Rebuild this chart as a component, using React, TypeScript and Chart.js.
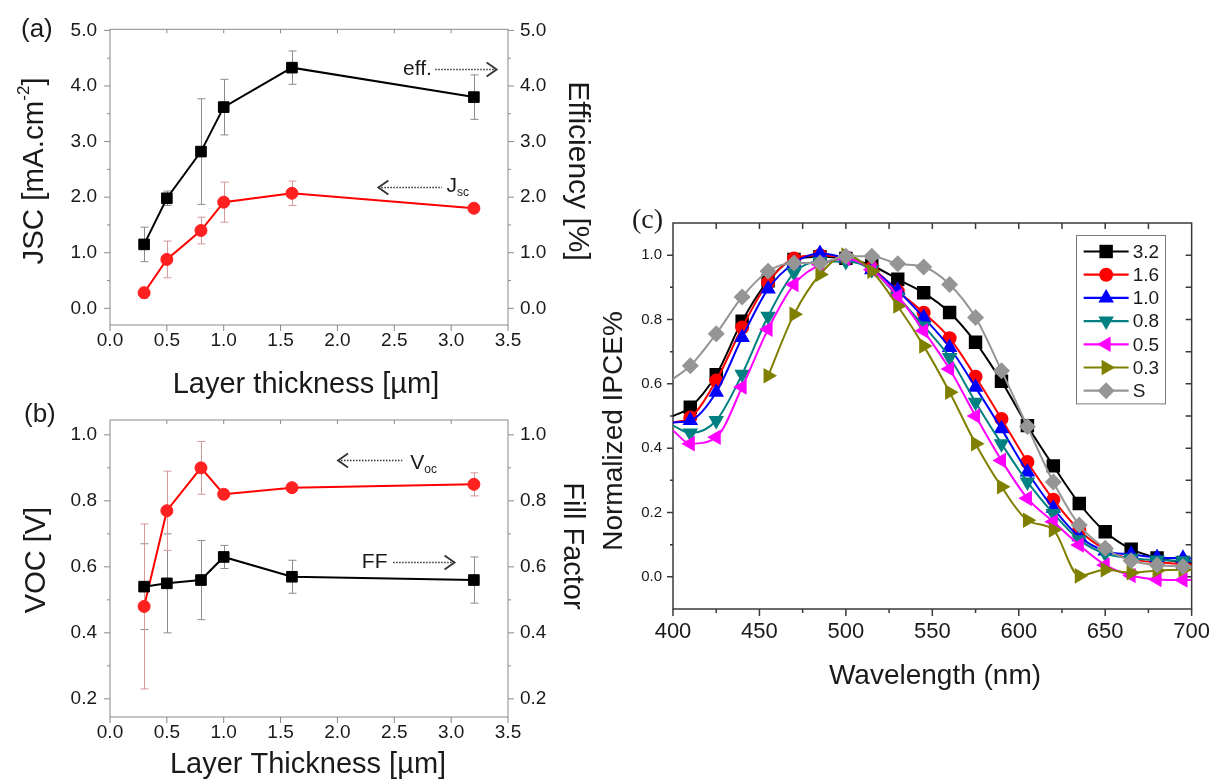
import React, { useEffect, useRef } from 'react';
import { Chart, registerables } from 'chart.js';

Chart.register(...registerables);

const SANS = '"Liberation Sans", Arial, Helvetica, sans-serif';
const SERIF = '"Liberation Serif", "Times New Roman", serif';
const INK = '#1a1a1a';

// ---------------- Panels (a) and (b) ----------------
const thicknessUm = [0.3, 0.5, 0.8, 1.0, 1.6, 3.2];
const jscValues = [0.28, 0.88, 1.4, 1.91, 2.07, 1.8];
const jscErrors = [0.1, 0.33, 0.24, 0.36, 0.22, 0.05];
const effValues = [1.15, 1.98, 2.82, 3.62, 4.33, 3.8];
const effErrors = [0.31, 0.13, 0.95, 0.5, 0.3, 0.4];
const vocValues = [0.48, 0.77, 0.9, 0.82, 0.84, 0.85];
const vocErrors = [0.25, 0.12, 0.08, 0.012, 0.01, 0.035];
const ffValues = [0.54, 0.55, 0.56, 0.63, 0.57, 0.56];
const ffErrors = [0.13, 0.15, 0.12, 0.035, 0.05, 0.07];

const thicknessTicks = [0, 0.5, 1, 1.5, 2, 2.5, 3, 3.5];
const thicknessTopTicks = [0.5, 1, 1.5, 2, 2.5, 3];
const jscTicks = [0, 1, 2, 3, 4, 5];
const jscMinorTicks = [0.5, 1.5, 2.5, 3.5, 4.5];
const vocTicks = [0.2, 0.4, 0.6, 0.8, 1.0];
const vocMinorTicks = [0.3, 0.5, 0.7, 0.9];

// ---------------- Panel (c) ----------------
const wavelengthNm = [400, 410, 425, 440, 455, 470, 485, 500, 515, 530, 545, 560, 575, 590, 605, 620, 635, 650, 665, 680, 695, 700];
const ipceLabels = ['3.2', '1.6', '1.0', '0.8', '0.5', '0.3', 'S'];
const ipce32 = [0.5, 0.527, 0.628, 0.795, 0.92, 0.987, 0.995, 0.99, 0.968, 0.925, 0.883, 0.822, 0.729, 0.608, 0.47, 0.345, 0.228, 0.14, 0.086, 0.059, 0.045, 0.043];
const ipce16 = [0.48, 0.495, 0.61, 0.775, 0.915, 0.99, 1.0, 0.99, 0.96, 0.888, 0.821, 0.742, 0.622, 0.491, 0.357, 0.24, 0.145, 0.085, 0.055, 0.045, 0.04, 0.038];
const ipce10 = [0.48, 0.486, 0.574, 0.744, 0.895, 0.975, 1.005, 0.99, 0.955, 0.89, 0.806, 0.713, 0.589, 0.46, 0.326, 0.213, 0.125, 0.08, 0.07, 0.06, 0.058, 0.057];
const ipce08 = [0.47, 0.447, 0.486, 0.63, 0.81, 0.945, 0.98, 0.98, 0.955, 0.87, 0.78, 0.682, 0.543, 0.414, 0.295, 0.197, 0.115, 0.072, 0.058, 0.052, 0.05, 0.05];
const ipce05 = [0.455, 0.414, 0.434, 0.59, 0.77, 0.909, 0.97, 0.99, 0.955, 0.873, 0.765, 0.646, 0.5, 0.362, 0.244, 0.171, 0.099, 0.037, 0.004, -0.008, -0.01, -0.01];
const ipce03 = [null, null, null, null, 0.625, 0.816, 0.94, 1.0, 0.95, 0.842, 0.718, 0.574, 0.414, 0.28, 0.176, 0.146, 0.003, 0.022, 0.013, 0.02, 0.022, 0.022];
const ipceS = [0.615, 0.656, 0.756, 0.87, 0.95, 0.976, 0.976, 0.997, 0.997, 0.973, 0.963, 0.909, 0.806, 0.641, 0.467, 0.295, 0.161, 0.089, 0.05, 0.037, 0.032, 0.031];
const ipceValues = [ipce32, ipce16, ipce10, ipce08, ipce05, ipce03, ipceS];

const wavelengthTicks = [400, 450, 500, 550, 600, 650, 700];
const wavelengthMinorTicks = [425, 475, 525, 575, 625, 675];
const wavelengthTopTicks = [425, 450, 475, 500, 525, 550, 575, 600, 625, 650, 675];
const ipceTicks = [0, 0.2, 0.4, 0.6, 0.8, 1.0];
const ipceMinorTicks = [0.1, 0.3, 0.5, 0.7, 0.9];
const ipceRightTicks = [0, 0.1, 0.2, 0.3, 0.4, 0.5, 0.6, 0.7, 0.8, 0.9, 1.0];

const ipceStyles = [
  { color: '#000000', shape: 'rect', rot: 0, r: 9.5 },
  { color: '#ff0000', shape: 'circle', rot: 0, r: 7 },
  { color: '#0000ff', shape: 'triangle', rot: 0, r: 9 },
  { color: '#008080', shape: 'triangle', rot: 180, r: 9 },
  { color: '#ff00ff', shape: 'triangle', rot: -90, r: 9 },
  { color: '#808000', shape: 'triangle', rot: 90, r: 9 },
  { color: '#959595', shape: 'rectRot', rot: 0, r: 8.5 },
];

// ---------------- helpers / plugins ----------------
type Part = { t: string; size?: number; dy?: number };
type Label = {
  parts: Part[];
  x: number;
  y: number;
  size: number;
  family?: string;
  align?: 'left' | 'center' | 'right';
  rot?: number;
  color?: string;
  data?: { xs: string; ys: string };
};

function textPlugin(items: Label[]) {
  return {
    id: 'texts',
    afterDraw(chart: any) {
      const ctx = chart.ctx as CanvasRenderingContext2D;
      for (const it of items) {
        let x = it.x;
        let y = it.y;
        if (it.data) {
          x = chart.scales[it.data.xs].getPixelForValue(it.x);
          y = chart.scales[it.data.ys].getPixelForValue(it.y);
        }
        const fam = it.family || SANS;
        ctx.save();
        ctx.translate(x, y);
        if (it.rot) ctx.rotate((it.rot * Math.PI) / 180);
        ctx.fillStyle = it.color || INK;
        ctx.textBaseline = 'middle';
        ctx.textAlign = 'left';
        const widths = it.parts.map((p) => {
          ctx.font = `${p.size || it.size}px ${fam}`;
          return ctx.measureText(p.t).width;
        });
        const total = widths.reduce((a, b) => a + b, 0);
        let cx = it.align === 'center' ? -total / 2 : it.align === 'right' ? -total : 0;
        it.parts.forEach((p, i) => {
          ctx.font = `${p.size || it.size}px ${fam}`;
          ctx.fillText(p.t, cx, p.dy || 0);
          cx += widths[i];
        });
        ctx.restore();
      }
    },
  };
}

type TickSet = { scale: string; side: 'left' | 'right' | 'top' | 'bottom'; values: number[]; len: number; out: boolean };

function framePlugin(color: string, width: number, sets: TickSet[]) {
  return {
    id: 'frame',
    beforeDatasetsDraw(chart: any) {
      const ctx = chart.ctx as CanvasRenderingContext2D;
      const a = chart.chartArea;
      ctx.save();
      ctx.strokeStyle = color;
      ctx.lineWidth = width;
      ctx.strokeRect(a.left, a.top, a.right - a.left, a.bottom - a.top);
      ctx.beginPath();
      for (const s of sets) {
        const sc = chart.scales[s.scale];
        const d = s.out ? s.len : -s.len;
        for (const v of s.values) {
          const p = sc.getPixelForValue(v);
          if (s.side === 'left') {
            ctx.moveTo(a.left, p);
            ctx.lineTo(a.left - d, p);
          } else if (s.side === 'right') {
            ctx.moveTo(a.right, p);
            ctx.lineTo(a.right + d, p);
          } else if (s.side === 'top') {
            ctx.moveTo(p, a.top);
            ctx.lineTo(p, a.top - d);
          } else {
            ctx.moveTo(p, a.bottom);
            ctx.lineTo(p, a.bottom + d);
          }
        }
      }
      ctx.stroke();
      ctx.restore();
    },
  };
}

type ErrSpec = { ds: number; err: number[]; color: string };
function errorBarPlugin(specs: ErrSpec[]) {
  return {
    id: 'errorBars',
    beforeDatasetsDraw(chart: any) {
      const ctx = chart.ctx as CanvasRenderingContext2D;
      ctx.save();
      ctx.lineWidth = 1;
      for (const s of specs) {
        const meta = chart.getDatasetMeta(s.ds);
        const xs = chart.scales[meta.xAxisID];
        const ys = chart.scales[meta.yAxisID];
        const data = chart.data.datasets[s.ds].data as { x: number; y: number }[];
        ctx.strokeStyle = s.color;
        ctx.beginPath();
        data.forEach((d, i) => {
          const x = Math.round(xs.getPixelForValue(d.x)) + 0.5;
          const y1 = ys.getPixelForValue(d.y - s.err[i]);
          const y2 = ys.getPixelForValue(d.y + s.err[i]);
          ctx.moveTo(x, y1);
          ctx.lineTo(x, y2);
          ctx.moveTo(x - 4, y1);
          ctx.lineTo(x + 4, y1);
          ctx.moveTo(x - 4, y2);
          ctx.lineTo(x + 4, y2);
        });
        ctx.stroke();
      }
      ctx.restore();
    },
  };
}

type Arrow = { xs: string; ys: string; x1: number; x2: number; y: number; head: 'left' | 'right' };
function arrowPlugin(arrows: Arrow[]) {
  return {
    id: 'arrows',
    afterDraw(chart: any) {
      const ctx = chart.ctx as CanvasRenderingContext2D;
      ctx.save();
      ctx.strokeStyle = '#333333';
      for (const a of arrows) {
        const xs = chart.scales[a.xs];
        const ys = chart.scales[a.ys];
        const p1 = xs.getPixelForValue(a.x1);
        const p2 = xs.getPixelForValue(a.x2);
        const y = Math.round(ys.getPixelForValue(a.y)) + 0.5;
        ctx.lineWidth = 1.3;
        ctx.setLineDash([1.5, 1.5]);
        ctx.beginPath();
        ctx.moveTo(p1, y);
        ctx.lineTo(p2, y);
        ctx.stroke();
        ctx.setLineDash([]);
        ctx.lineWidth = 1.8;
        ctx.beginPath();
        if (a.head === 'right') {
          ctx.moveTo(p2 - 10, y - 7);
          ctx.lineTo(p2, y);
          ctx.lineTo(p2 - 10, y + 7);
        } else {
          ctx.moveTo(p1 + 10, y - 7);
          ctx.lineTo(p1, y);
          ctx.lineTo(p1 + 10, y + 7);
        }
        ctx.stroke();
      }
      ctx.restore();
    },
  };
}

function drawMarker(ctx: CanvasRenderingContext2D, shape: string, x: number, y: number, r: number, rotDeg: number) {
  ctx.beginPath();
  if (shape === 'circle') {
    ctx.arc(x, y, r, 0, Math.PI * 2);
  } else if (shape === 'rect') {
    const s = Math.SQRT1_2 * r;
    ctx.rect(x - s, y - s, 2 * s, 2 * s);
  } else if (shape === 'rectRot') {
    ctx.moveTo(x, y - r);
    ctx.lineTo(x + r, y);
    ctx.lineTo(x, y + r);
    ctx.lineTo(x - r, y);
    ctx.closePath();
  } else {
    let rad = (rotDeg * Math.PI) / 180;
    ctx.moveTo(x + Math.sin(rad) * r, y - Math.cos(rad) * r);
    rad += (2 * Math.PI) / 3;
    ctx.lineTo(x + Math.sin(rad) * r, y - Math.cos(rad) * r);
    rad += (2 * Math.PI) / 3;
    ctx.lineTo(x + Math.sin(rad) * r, y - Math.cos(rad) * r);
    ctx.closePath();
  }
  ctx.fill();
}

function ipceLegendPlugin() {
  return {
    id: 'ipceLegend',
    afterDatasetsDraw(chart: any) {
      const ctx = chart.ctx as CanvasRenderingContext2D;
      const a = chart.chartArea;
      const boxW = 89;
      const rowH = 23.2;
      const right = a.right - 27;
      const top = a.top + 12;
      const left = right - boxW;
      const h = rowH * ipceLabels.length + 6;
      ctx.save();
      ctx.fillStyle = '#ffffff';
      ctx.fillRect(left, top, boxW, h);
      ctx.strokeStyle = '#7a7a7a';
      ctx.lineWidth = 1;
      ctx.strokeRect(Math.round(left) + 0.5, Math.round(top) + 0.5, boxW, h);
      ipceLabels.forEach((lab, i) => {
        const st = ipceStyles[i];
        const y = top + 16.5 + i * rowH;
        ctx.strokeStyle = st.color;
        ctx.fillStyle = st.color;
        ctx.lineWidth = 2.2;
        ctx.beginPath();
        ctx.moveTo(left + 8, y);
        ctx.lineTo(left + 53, y);
        ctx.stroke();
        drawMarker(ctx, st.shape, left + 30.5, y, st.r, st.rot);
        ctx.fillStyle = INK;
        ctx.font = `19px ${SANS}`;
        ctx.textBaseline = 'middle';
        ctx.textAlign = 'left';
        ctx.fillText(lab, left + 57, y + 1);
      });
      ctx.restore();
    },
  };
}

const fixTicks = (vals: number[]) => (s: any) => {
  s.ticks = vals.map((v) => ({ value: v }));
};

function axis(opts: any) {
  return {
    type: 'linear',
    min: opts.min,
    max: opts.max,
    position: opts.position,
    afterBuildTicks: fixTicks(opts.ticks),
    afterFit: (s: any) => {
      if (opts.width !== undefined) s.width = opts.width;
      if (opts.height !== undefined) s.height = opts.height;
    },
    grid: { display: false, drawTicks: false },
    border: { display: false },
    ticks: {
      display: opts.showLabels !== false,
      autoSkip: false,
      maxRotation: 0,
      padding: opts.padding,
      color: INK,
      font: { family: SANS, size: opts.fontSize },
      callback: opts.format,
    },
  };
}

const fmt1 = (v: any) => Number(v).toFixed(1);
const fmt0 = (v: any) => String(Math.round(Number(v)));

// ---------------- chart builders ----------------
function buildA(canvas: HTMLCanvasElement) {
  const toPts = (ys: number[]) => thicknessUm.map((x, i) => ({ x, y: ys[i] }));
  return new Chart(canvas, {
    type: 'line',
    data: {
      datasets: [
        {
          label: 'eff.',
          data: toPts(effValues),
          yAxisID: 'y2',
          borderColor: '#000000',
          backgroundColor: '#000000',
          pointBackgroundColor: '#000000',
          pointBorderColor: '#000000',
          borderWidth: 2,
          pointStyle: 'rect',
          pointRadius: 7.5,
          pointBorderWidth: 1,
          order: 0,
        },
        {
          label: 'Jsc',
          data: toPts(jscValues),
          yAxisID: 'y',
          borderColor: '#ff0000',
          backgroundColor: '#ff0000',
          pointBackgroundColor: '#ff2020',
          pointBorderColor: '#ff2020',
          borderWidth: 2,
          pointStyle: 'circle',
          pointRadius: 6,
          pointBorderWidth: 1,
          order: 1,
        },
      ],
    } as any,
    options: {
      responsive: false,
      animation: false,
      events: [],
      layout: { padding: { top: 29.3, left: 0, right: 0, bottom: 0 } },
      plugins: { legend: { display: false }, tooltip: { enabled: false } },
      scales: {
        x: axis({ min: 0, max: 3.5, position: 'bottom', ticks: thicknessTicks, height: 85, padding: 4, fontSize: 19, format: fmt1 }),
        y: axis({ min: -0.3, max: 5.02, position: 'left', ticks: jscTicks, width: 110, padding: 13, fontSize: 19, format: fmt1 }),
        y2: axis({ min: -0.3, max: 5.02, position: 'right', ticks: jscTicks, width: 92, padding: 12, fontSize: 19, format: fmt1 }),
      },
    } as any,
    plugins: [
      framePlugin('#8a8a8a', 1, [
        { scale: 'y', side: 'left', values: jscTicks, len: 6, out: true },
        { scale: 'y', side: 'left', values: jscMinorTicks, len: 3, out: true },
        { scale: 'y2', side: 'right', values: jscTicks, len: 6, out: true },
        { scale: 'y2', side: 'right', values: jscMinorTicks, len: 3, out: true },
        { scale: 'x', side: 'bottom', values: thicknessTicks, len: 6, out: true },
        { scale: 'x', side: 'top', values: thicknessTopTicks, len: 4, out: false },
      ]),
      errorBarPlugin([
        { ds: 0, err: effErrors, color: '#8c8c8c' },
        { ds: 1, err: jscErrors, color: '#d49a9a' },
      ]),
      arrowPlugin([
        { xs: 'x', ys: 'y2', x1: 2.86, x2: 3.4, y: 4.31, head: 'right' },
        { xs: 'x', ys: 'y', x1: 2.36, x2: 2.92, y: 2.19, head: 'left' },
      ]),
      textPlugin([
        { parts: [{ t: '(a)' }], x: 21, y: 30, size: 26 },
        { parts: [{ t: 'JSC [mA.cm' }, { t: '-2', size: 17, dy: -11 }, { t: ']' }], x: 35, y: 171, size: 29.5, rot: -90, align: 'center' },
        { parts: [{ t: 'Efficiency [%]' }], x: 577, y: 171, size: 30, rot: 90, align: 'center' },
        { parts: [{ t: 'Layer thickness [µm]' }], x: 306, y: 385, size: 29, align: 'center' },
        { parts: [{ t: 'eff.' }], x: 2.83, y: 4.31, size: 21, align: 'right', data: { xs: 'x', ys: 'y2' } },
        { parts: [{ t: 'J' }, { t: 'sc', size: 12, dy: 6 }], x: 2.96, y: 2.19, size: 21, align: 'left', data: { xs: 'x', ys: 'y' } },
      ]),
    ],
  });
}

function buildB(canvas: HTMLCanvasElement) {
  const toPts = (ys: number[]) => thicknessUm.map((x, i) => ({ x, y: ys[i] }));
  return new Chart(canvas, {
    type: 'line',
    data: {
      datasets: [
        {
          label: 'FF',
          data: toPts(ffValues),
          yAxisID: 'y2',
          borderColor: '#000000',
          backgroundColor: '#000000',
          pointBackgroundColor: '#000000',
          pointBorderColor: '#000000',
          borderWidth: 2,
          pointStyle: 'rect',
          pointRadius: 7.5,
          pointBorderWidth: 1,
          order: 0,
        },
        {
          label: 'Voc',
          data: toPts(vocValues),
          yAxisID: 'y',
          borderColor: '#ff0000',
          backgroundColor: '#ff0000',
          pointBackgroundColor: '#ff2020',
          pointBorderColor: '#ff2020',
          borderWidth: 2,
          pointStyle: 'circle',
          pointRadius: 6,
          pointBorderWidth: 1,
          order: 1,
        },
      ],
    } as any,
    options: {
      responsive: false,
      animation: false,
      events: [],
      layout: { padding: { top: 30, left: 0, right: 0, bottom: 0 } },
      plugins: { legend: { display: false }, tooltip: { enabled: false } },
      scales: {
        x: axis({ min: 0, max: 3.5, position: 'bottom', ticks: thicknessTicks, height: 65, padding: 4, fontSize: 19, format: fmt1 }),
        y: axis({ min: 0.145, max: 1.045, position: 'left', ticks: vocTicks, width: 110, padding: 13, fontSize: 19, format: fmt1 }),
        y2: axis({ min: 0.145, max: 1.045, position: 'right', ticks: vocTicks, width: 92, padding: 12, fontSize: 19, format: fmt1 }),
      },
    } as any,
    plugins: [
      framePlugin('#8a8a8a', 1, [
        { scale: 'y', side: 'left', values: vocTicks, len: 6, out: true },
        { scale: 'y', side: 'left', values: vocMinorTicks, len: 3, out: true },
        { scale: 'y2', side: 'right', values: vocTicks, len: 6, out: true },
        { scale: 'y2', side: 'right', values: vocMinorTicks, len: 3, out: true },
        { scale: 'x', side: 'bottom', values: thicknessTicks, len: 6, out: true },
        { scale: 'x', side: 'top', values: thicknessTopTicks, len: 4, out: false },
      ]),
      errorBarPlugin([
        { ds: 0, err: ffErrors, color: '#8c8c8c' },
        { ds: 1, err: vocErrors, color: '#d49a9a' },
      ]),
      arrowPlugin([
        { xs: 'x', ys: 'y', x1: 2.005, x2: 2.57, y: 0.924, head: 'left' },
        { xs: 'x', ys: 'y2', x1: 2.49, x2: 3.03, y: 0.614, head: 'right' },
      ]),
      textPlugin([
        { parts: [{ t: '(b)' }], x: 24, y: 25, size: 26 },
        { parts: [{ t: 'VOC [V]' }], x: 37, y: 170, size: 29, rot: -90, align: 'center' },
        { parts: [{ t: 'Fill Factor' }], x: 572, y: 156, size: 29, rot: 90, align: 'center' },
        { parts: [{ t: 'Layer Thickness [µm]' }], x: 308, y: 375, size: 29, align: 'center' },
        { parts: [{ t: 'V' }, { t: 'oc', size: 12, dy: 7 }], x: 2.64, y: 0.915, size: 21, align: 'left', data: { xs: 'x', ys: 'y' } },
        { parts: [{ t: 'FF' }], x: 2.44, y: 0.614, size: 21, align: 'right', data: { xs: 'x', ys: 'y2' } },
      ]),
    ],
  });
}

function buildC(canvas: HTMLCanvasElement) {
  const last = wavelengthNm.length - 1;
  const datasets = ipceLabels.map((label, k) => {
    const st = ipceStyles[k];
    return {
      label,
      data: wavelengthNm.map((w, i) => ({ x: w, y: ipceValues[k][i] })),
      borderColor: st.color,
      backgroundColor: st.color,
      pointBackgroundColor: st.color,
      pointBorderColor: st.color,
      borderWidth: 2,
      pointBorderWidth: 0,
      pointStyle: st.shape,
      pointRotation: st.rot,
      pointRadius: (ctx: any) => (ctx.dataIndex === 0 || ctx.dataIndex === last ? 0 : st.r),
      cubicInterpolationMode: 'monotone',
      spanGaps: false,
      order: ipceLabels.length - k,
    };
  });
  return new Chart(canvas, {
    type: 'line',
    data: { datasets } as any,
    options: {
      responsive: false,
      animation: false,
      events: [],
      layout: { padding: { top: 23, left: 0, right: 22, bottom: 0 } },
      plugins: { legend: { display: false }, tooltip: { enabled: false } },
      scales: {
        x: axis({ min: 400, max: 700, position: 'bottom', ticks: wavelengthTicks, height: 91, padding: 10, fontSize: 22, format: fmt0 }),
        y: axis({ min: -0.1, max: 1.1, position: 'left', ticks: ipceTicks, width: 73, padding: 11, fontSize: 15, format: fmt1 }),
      },
    } as any,
    plugins: [
      framePlugin('#3a3a3a', 1.5, [
        { scale: 'y', side: 'left', values: ipceTicks, len: 6, out: true },
        { scale: 'y', side: 'left', values: ipceMinorTicks, len: 3, out: true },
        { scale: 'y', side: 'right', values: ipceRightTicks, len: 6, out: false },
        { scale: 'x', side: 'bottom', values: wavelengthTicks, len: 7, out: true },
        { scale: 'x', side: 'bottom', values: wavelengthMinorTicks, len: 4, out: true },
        { scale: 'x', side: 'top', values: wavelengthTopTicks, len: 6, out: false },
      ]),
      ipceLegendPlugin(),
      textPlugin([
        { parts: [{ t: '(c)' }], x: 32, y: 21, size: 28, family: SERIF },
        { parts: [{ t: 'Normalized IPCE%' }], x: 14, y: 231, size: 28, rot: -90, align: 'center' },
        { parts: [{ t: 'Wavelength (nm)' }], x: 335, y: 476, size: 28, align: 'center' },
      ]),
    ],
  });
}

function ChartCanvas(props: { left: number; top: number; width: number; height: number; build: (c: HTMLCanvasElement) => Chart }) {
  const ref = useRef<HTMLCanvasElement | null>(null);
  useEffect(() => {
    if (!ref.current) return;
    const chart = props.build(ref.current);
    return () => chart.destroy();
  }, []);
  return (
    <canvas
      ref={ref}
      width={props.width}
      height={props.height}
      style={{ position: 'absolute', left: props.left, top: props.top, width: props.width, height: props.height }}
    />
  );
}

export default function App() {
  return (
    <div style={{ position: 'absolute', left: 0, top: 0, width: 1220, height: 782, background: '#ffffff', overflow: 'hidden' }}>
      <ChartCanvas left={0} top={0} width={600} height={410} build={buildA} />
      <ChartCanvas left={0} top={390} width={600} height={392} build={buildB} />
      <ChartCanvas left={600} top={200} width={620} height={500} build={buildC} />
    </div>
  );
}
